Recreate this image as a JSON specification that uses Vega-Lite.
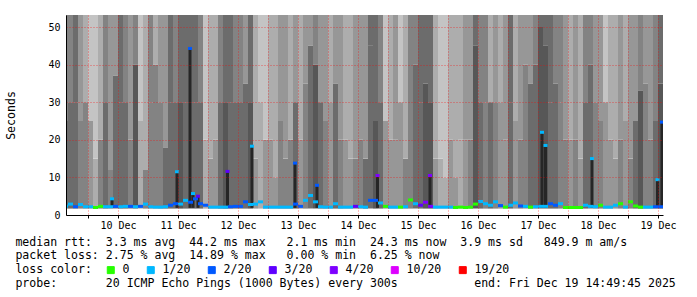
{
"$schema": "https://vega.github.io/schema/vega-lite/v6.json",
"width": 597, "height": 200,
"autosize": {"type": "none"},
"padding": {"left": 66, "top": 15, "right": 34, "bottom": 82},
"background": "white",
"config": {"view": {"stroke": null}},
"title": {
 "text": ["median rtt:\u00a0\u00a03.3 ms avg\u00a0\u00a044.2 ms max\u00a0\u00a0\u00a02.1 ms min\u00a0\u00a024.3 ms now\u00a0\u00a03.9 ms sd\u00a0\u00a0\u00a0849.9 m am/s",
          "packet loss: 2.75 % avg\u00a0\u00a014.89 % max\u00a0\u00a0\u00a00.00 % min\u00a0\u00a06.25 % now",
          "loss color:",
          "probe:\u00a0\u00a0\u00a0\u00a0\u00a0\u00a0\u00a020 ICMP Echo Pings (1000 Bytes) every 300s\u00a0\u00a0\u00a0\u00a0\u00a0\u00a0\u00a0\u00a0\u00a0\u00a0\u00a0end: Fri Dec 19 14:49:45 2025"],
 "orient": "bottom", "anchor": "start", "frame": "group", "dx": -50.6, "offset": -39.3,
 "font": "DejaVu Sans Mono", "fontSize": 11.55, "fontWeight": "normal", "color": "#000000", "lineHeight": 13.7
},
"datasets": {
"smoke": [
{"t":"2025-12-09T14:00","t2":"2025-12-09T16:00","dlow":5,"split":25,"dhigh":4,"median":2.3,"loss":"1/20"},
{"t":"2025-12-09T16:00","t2":"2025-12-09T18:00","dlow":5,"split":30,"dhigh":4,"median":2.9,"loss":"1/20"},
{"t":"2025-12-09T18:00","t2":"2025-12-09T20:00","dlow":5,"split":30,"dhigh":5,"median":2.2,"loss":"2/20"},
{"t":"2025-12-09T20:00","t2":"2025-12-09T22:00","dlow":4,"split":25,"dhigh":3,"median":2.8,"loss":"1/20"},
{"t":"2025-12-09T22:00","t2":"2025-12-10T00:00","dlow":4,"split":30,"dhigh":2,"median":2.2,"loss":"1/20"},
{"t":"2025-12-10T00:00","t2":"2025-12-10T02:00","dlow":3,"split":25,"dhigh":1,"median":2.2,"loss":"1/20"},
{"t":"2025-12-10T02:00","t2":"2025-12-10T04:00","dlow":2,"split":15,"dhigh":1,"median":2.0,"loss":"0"},
{"t":"2025-12-10T04:00","t2":"2025-12-10T06:00","dlow":4,"split":20,"dhigh":2,"median":2.3,"loss":"0"},
{"t":"2025-12-10T06:00","t2":"2025-12-10T08:00","dlow":5,"split":30,"dhigh":4,"median":2.2,"loss":"1/20"},
{"t":"2025-12-10T08:00","t2":"2025-12-10T10:00","dlow":4,"split":12,"dhigh":3,"median":2.2,"loss":"1/20"},
{"t":"2025-12-10T10:00","t2":"2025-12-10T12:00","dlow":5,"split":37,"dhigh":3,"median":2.3,"loss":"2/20"},
{"t":"2025-12-10T12:00","t2":"2025-12-10T14:00","dlow":5,"split":30,"dhigh":5,"median":2.2,"loss":"1/20"},
{"t":"2025-12-10T14:00","t2":"2025-12-10T16:00","dlow":5,"split":30,"dhigh":4,"median":2.3,"loss":"1/20"},
{"t":"2025-12-10T16:00","t2":"2025-12-10T18:00","dlow":4,"split":20,"dhigh":3,"median":2.3,"loss":"2/20"},
{"t":"2025-12-10T18:00","t2":"2025-12-10T20:00","dlow":6,"split":40,"dhigh":4,"median":2.2,"loss":"1/20"},
{"t":"2025-12-10T20:00","t2":"2025-12-10T22:00","dlow":2,"split":25,"dhigh":1,"median":2.3,"loss":"2/20"},
{"t":"2025-12-10T22:00","t2":"2025-12-11T00:00","dlow":4,"split":12,"dhigh":2,"median":2.9,"loss":"1/20"},
{"t":"2025-12-11T00:00","t2":"2025-12-11T02:00","dlow":4,"split":30,"dhigh":4,"median":2.2,"loss":"1/20"},
{"t":"2025-12-11T02:00","t2":"2025-12-11T04:00","dlow":4,"split":40,"dhigh":2,"median":2.1,"loss":"1/20"},
{"t":"2025-12-11T04:00","t2":"2025-12-11T06:00","dlow":4,"split":30,"dhigh":3,"median":2.1,"loss":"1/20"},
{"t":"2025-12-11T06:00","t2":"2025-12-11T08:00","dlow":5,"split":18,"dhigh":3,"median":2.2,"loss":"1/20"},
{"t":"2025-12-11T08:00","t2":"2025-12-11T10:00","dlow":5,"split":30,"dhigh":5,"median":2.6,"loss":"2/20"},
{"t":"2025-12-11T10:00","t2":"2025-12-11T12:00","dlow":5,"split":30,"dhigh":4,"median":3.0,"loss":"2/20"},
{"t":"2025-12-11T12:00","t2":"2025-12-11T14:00","dlow":6,"split":30,"dhigh":5,"median":2.9,"loss":"1/20"},
{"t":"2025-12-11T14:00","t2":"2025-12-11T16:00","dlow":5,"split":30,"dhigh":5,"median":3.9,"loss":"1/20"},
{"t":"2025-12-11T16:00","t2":"2025-12-11T18:00","dlow":5,"split":30,"dhigh":5,"median":3.4,"loss":"2/20"},
{"t":"2025-12-11T18:00","t2":"2025-12-11T20:00","dlow":5,"split":30,"dhigh":5,"median":4.3,"loss":"2/20"},
{"t":"2025-12-11T20:00","t2":"2025-12-11T22:00","dlow":5,"split":30,"dhigh":4,"median":3.0,"loss":"2/20"},
{"t":"2025-12-11T22:00","t2":"2025-12-12T00:00","dlow":2,"split":20,"dhigh":1,"median":2.6,"loss":"2/20"},
{"t":"2025-12-12T00:00","t2":"2025-12-12T02:00","dlow":3,"split":15,"dhigh":2,"median":2.1,"loss":"1/20"},
{"t":"2025-12-12T02:00","t2":"2025-12-12T04:00","dlow":3,"split":20,"dhigh":2,"median":2.1,"loss":"1/20"},
{"t":"2025-12-12T04:00","t2":"2025-12-12T06:00","dlow":5,"split":30,"dhigh":4,"median":2.1,"loss":"1/20"},
{"t":"2025-12-12T06:00","t2":"2025-12-12T08:00","dlow":6,"split":30,"dhigh":5,"median":2.1,"loss":"1/20"},
{"t":"2025-12-12T08:00","t2":"2025-12-12T10:00","dlow":5,"split":30,"dhigh":5,"median":2.2,"loss":"2/20"},
{"t":"2025-12-12T10:00","t2":"2025-12-12T12:00","dlow":5,"split":30,"dhigh":4,"median":2.3,"loss":"2/20"},
{"t":"2025-12-12T12:00","t2":"2025-12-12T14:00","dlow":5,"split":30,"dhigh":4,"median":2.3,"loss":"2/20"},
{"t":"2025-12-12T14:00","t2":"2025-12-12T16:00","dlow":5,"split":35,"dhigh":3,"median":3.5,"loss":"2/20"},
{"t":"2025-12-12T16:00","t2":"2025-12-12T18:00","dlow":6,"split":30,"dhigh":5,"median":2.8,"loss":"1/20"},
{"t":"2025-12-12T18:00","t2":"2025-12-12T20:00","dlow":3,"split":15,"dhigh":2,"median":2.9,"loss":"1/20"},
{"t":"2025-12-12T20:00","t2":"2025-12-12T22:00","dlow":2,"split":30,"dhigh":1,"median":3.5,"loss":"1/20"},
{"t":"2025-12-12T22:00","t2":"2025-12-13T00:00","dlow":3,"split":20,"dhigh":1,"median":2.1,"loss":"1/20"},
{"t":"2025-12-13T00:00","t2":"2025-12-13T02:00","dlow":3,"split":20,"dhigh":2,"median":2.1,"loss":"1/20"},
{"t":"2025-12-13T02:00","t2":"2025-12-13T04:00","dlow":3,"split":10,"dhigh":2,"median":2.1,"loss":"1/20"},
{"t":"2025-12-13T04:00","t2":"2025-12-13T06:00","dlow":4,"split":25,"dhigh":3,"median":2.1,"loss":"1/20"},
{"t":"2025-12-13T06:00","t2":"2025-12-13T08:00","dlow":4,"split":15,"dhigh":3,"median":2.1,"loss":"1/20"},
{"t":"2025-12-13T08:00","t2":"2025-12-13T10:00","dlow":4,"split":20,"dhigh":2,"median":2.1,"loss":"1/20"},
{"t":"2025-12-13T10:00","t2":"2025-12-13T12:00","dlow":5,"split":30,"dhigh":3,"median":2.9,"loss":"2/20"},
{"t":"2025-12-13T12:00","t2":"2025-12-13T14:00","dlow":3,"split":20,"dhigh":2,"median":2.3,"loss":"2/20"},
{"t":"2025-12-13T14:00","t2":"2025-12-13T16:00","dlow":4,"split":35,"dhigh":3,"median":3.9,"loss":"1/20"},
{"t":"2025-12-13T16:00","t2":"2025-12-13T18:00","dlow":5,"split":45,"dhigh":3,"median":5.2,"loss":"1/20"},
{"t":"2025-12-13T18:00","t2":"2025-12-13T20:00","dlow":6,"split":40,"dhigh":4,"median":3.5,"loss":"1/20"},
{"t":"2025-12-13T20:00","t2":"2025-12-13T22:00","dlow":5,"split":30,"dhigh":3,"median":2.2,"loss":"1/20"},
{"t":"2025-12-13T22:00","t2":"2025-12-14T00:00","dlow":4,"split":25,"dhigh":3,"median":2.1,"loss":"1/20"},
{"t":"2025-12-14T00:00","t2":"2025-12-14T02:00","dlow":3,"split":30,"dhigh":2,"median":2.1,"loss":"1/20"},
{"t":"2025-12-14T02:00","t2":"2025-12-14T04:00","dlow":5,"split":35,"dhigh":3,"median":3.0,"loss":"1/20"},
{"t":"2025-12-14T04:00","t2":"2025-12-14T06:00","dlow":4,"split":20,"dhigh":3,"median":2.1,"loss":"1/20"},
{"t":"2025-12-14T06:00","t2":"2025-12-14T08:00","dlow":3,"split":20,"dhigh":2,"median":2.1,"loss":"1/20"},
{"t":"2025-12-14T08:00","t2":"2025-12-14T10:00","dlow":3,"split":15,"dhigh":2,"median":2.1,"loss":"1/20"},
{"t":"2025-12-14T10:00","t2":"2025-12-14T12:00","dlow":4,"split":15,"dhigh":3,"median":2.3,"loss":"3/20"},
{"t":"2025-12-14T12:00","t2":"2025-12-14T14:00","dlow":4,"split":20,"dhigh":3,"median":2.2,"loss":"1/20"},
{"t":"2025-12-14T14:00","t2":"2025-12-14T16:00","dlow":5,"split":15,"dhigh":3,"median":2.1,"loss":"1/20"},
{"t":"2025-12-14T16:00","t2":"2025-12-14T18:00","dlow":5,"split":45,"dhigh":5,"median":3.9,"loss":"2/20"},
{"t":"2025-12-14T18:00","t2":"2025-12-14T20:00","dlow":6,"split":25,"dhigh":5,"median":3.9,"loss":"2/20"},
{"t":"2025-12-14T20:00","t2":"2025-12-14T22:00","dlow":5,"split":30,"dhigh":4,"median":3.2,"loss":"1/20"},
{"t":"2025-12-14T22:00","t2":"2025-12-15T00:00","dlow":3,"split":25,"dhigh":1,"median":2.3,"loss":"0"},
{"t":"2025-12-15T00:00","t2":"2025-12-15T02:00","dlow":3,"split":20,"dhigh":2,"median":2.1,"loss":"1/20"},
{"t":"2025-12-15T02:00","t2":"2025-12-15T04:00","dlow":3,"split":20,"dhigh":3,"median":2.1,"loss":"1/20"},
{"t":"2025-12-15T04:00","t2":"2025-12-15T06:00","dlow":3,"split":30,"dhigh":1,"median":2.1,"loss":"0"},
{"t":"2025-12-15T06:00","t2":"2025-12-15T08:00","dlow":4,"split":15,"dhigh":2,"median":2.2,"loss":"1/20"},
{"t":"2025-12-15T08:00","t2":"2025-12-15T10:00","dlow":4,"split":25,"dhigh":4,"median":4.0,"loss":"0"},
{"t":"2025-12-15T10:00","t2":"2025-12-15T12:00","dlow":5,"split":40,"dhigh":4,"median":3.0,"loss":"1/20"},
{"t":"2025-12-15T12:00","t2":"2025-12-15T14:00","dlow":5,"split":30,"dhigh":5,"median":2.6,"loss":"3/20"},
{"t":"2025-12-15T14:00","t2":"2025-12-15T16:00","dlow":6,"split":35,"dhigh":5,"median":3.4,"loss":"4/20"},
{"t":"2025-12-15T16:00","t2":"2025-12-15T18:00","dlow":6,"split":30,"dhigh":5,"median":2.3,"loss":"4/20"},
{"t":"2025-12-15T18:00","t2":"2025-12-15T20:00","dlow":3,"split":15,"dhigh":2,"median":2.1,"loss":"1/20"},
{"t":"2025-12-15T20:00","t2":"2025-12-15T22:00","dlow":2,"split":15,"dhigh":1,"median":2.1,"loss":"1/20"},
{"t":"2025-12-15T22:00","t2":"2025-12-16T00:00","dlow":2,"split":10,"dhigh":1,"median":2.1,"loss":"1/20"},
{"t":"2025-12-16T00:00","t2":"2025-12-16T02:00","dlow":3,"split":20,"dhigh":2,"median":2.1,"loss":"1/20"},
{"t":"2025-12-16T02:00","t2":"2025-12-16T04:00","dlow":3,"split":10,"dhigh":2,"median":2.0,"loss":"0"},
{"t":"2025-12-16T04:00","t2":"2025-12-16T06:00","dlow":2,"split":20,"dhigh":2,"median":2.1,"loss":"0"},
{"t":"2025-12-16T06:00","t2":"2025-12-16T08:00","dlow":3,"split":20,"dhigh":3,"median":2.0,"loss":"0"},
{"t":"2025-12-16T08:00","t2":"2025-12-16T10:00","dlow":4,"split":20,"dhigh":3,"median":2.1,"loss":"0"},
{"t":"2025-12-16T10:00","t2":"2025-12-16T12:00","dlow":6,"split":45,"dhigh":5,"median":2.9,"loss":"0"},
{"t":"2025-12-16T12:00","t2":"2025-12-16T14:00","dlow":5,"split":30,"dhigh":4,"median":3.6,"loss":"1/20"},
{"t":"2025-12-16T14:00","t2":"2025-12-16T16:00","dlow":4,"split":30,"dhigh":4,"median":3.0,"loss":"1/20"},
{"t":"2025-12-16T16:00","t2":"2025-12-16T18:00","dlow":5,"split":30,"dhigh":2,"median":2.6,"loss":"1/20"},
{"t":"2025-12-16T18:00","t2":"2025-12-16T20:00","dlow":4,"split":30,"dhigh":3,"median":3.5,"loss":"1/20"},
{"t":"2025-12-16T20:00","t2":"2025-12-16T22:00","dlow":3,"split":30,"dhigh":2,"median":2.5,"loss":"2/20"},
{"t":"2025-12-16T22:00","t2":"2025-12-17T00:00","dlow":3,"split":20,"dhigh":3,"median":2.1,"loss":"0"},
{"t":"2025-12-17T00:00","t2":"2025-12-17T02:00","dlow":5,"split":30,"dhigh":5,"median":2.6,"loss":"1/20"},
{"t":"2025-12-17T02:00","t2":"2025-12-17T04:00","dlow":3,"split":25,"dhigh":2,"median":3.2,"loss":"1/20"},
{"t":"2025-12-17T04:00","t2":"2025-12-17T06:00","dlow":4,"split":20,"dhigh":3,"median":2.4,"loss":"2/20"},
{"t":"2025-12-17T06:00","t2":"2025-12-17T08:00","dlow":4,"split":40,"dhigh":3,"median":2.3,"loss":"1/20"},
{"t":"2025-12-17T08:00","t2":"2025-12-17T10:00","dlow":5,"split":35,"dhigh":3,"median":2.1,"loss":"0"},
{"t":"2025-12-17T10:00","t2":"2025-12-17T12:00","dlow":5,"split":40,"dhigh":4,"median":2.2,"loss":"1/20"},
{"t":"2025-12-17T12:00","t2":"2025-12-17T14:00","dlow":6,"split":50,"dhigh":5,"median":2.3,"loss":"1/20"},
{"t":"2025-12-17T14:00","t2":"2025-12-17T16:00","dlow":6,"split":45,"dhigh":5,"median":2.3,"loss":"1/20"},
{"t":"2025-12-17T16:00","t2":"2025-12-17T18:00","dlow":5,"split":30,"dhigh":5,"median":3.0,"loss":"2/20"},
{"t":"2025-12-17T18:00","t2":"2025-12-17T20:00","dlow":5,"split":35,"dhigh":4,"median":2.6,"loss":"2/20"},
{"t":"2025-12-17T20:00","t2":"2025-12-17T22:00","dlow":4,"split":30,"dhigh":4,"median":3.0,"loss":"1/20"},
{"t":"2025-12-17T22:00","t2":"2025-12-18T00:00","dlow":4,"split":20,"dhigh":3,"median":2.0,"loss":"0"},
{"t":"2025-12-18T00:00","t2":"2025-12-18T02:00","dlow":3,"split":20,"dhigh":2,"median":2.0,"loss":"0"},
{"t":"2025-12-18T02:00","t2":"2025-12-18T04:00","dlow":4,"split":20,"dhigh":3,"median":2.0,"loss":"0"},
{"t":"2025-12-18T04:00","t2":"2025-12-18T06:00","dlow":3,"split":15,"dhigh":2,"median":2.0,"loss":"0"},
{"t":"2025-12-18T06:00","t2":"2025-12-18T08:00","dlow":5,"split":30,"dhigh":4,"median":2.6,"loss":"1/20"},
{"t":"2025-12-18T08:00","t2":"2025-12-18T10:00","dlow":5,"split":40,"dhigh":4,"median":2.3,"loss":"1/20"},
{"t":"2025-12-18T10:00","t2":"2025-12-18T12:00","dlow":4,"split":30,"dhigh":3,"median":2.2,"loss":"1/20"},
{"t":"2025-12-18T12:00","t2":"2025-12-18T14:00","dlow":4,"split":25,"dhigh":3,"median":2.6,"loss":"0"},
{"t":"2025-12-18T14:00","t2":"2025-12-18T16:00","dlow":3,"split":30,"dhigh":1,"median":2.1,"loss":"1/20"},
{"t":"2025-12-18T16:00","t2":"2025-12-18T18:00","dlow":3,"split":20,"dhigh":2,"median":2.1,"loss":"1/20"},
{"t":"2025-12-18T18:00","t2":"2025-12-18T20:00","dlow":3,"split":15,"dhigh":2,"median":2.6,"loss":"1/20"},
{"t":"2025-12-18T20:00","t2":"2025-12-18T22:00","dlow":4,"split":20,"dhigh":3,"median":3.0,"loss":"0"},
{"t":"2025-12-18T22:00","t2":"2025-12-19T00:00","dlow":3,"split":25,"dhigh":2,"median":2.1,"loss":"1/20"},
{"t":"2025-12-19T00:00","t2":"2025-12-19T02:00","dlow":4,"split":15,"dhigh":3,"median":3.5,"loss":"0"},
{"t":"2025-12-19T02:00","t2":"2025-12-19T04:00","dlow":5,"split":25,"dhigh":3,"median":2.4,"loss":"0"},
{"t":"2025-12-19T04:00","t2":"2025-12-19T06:00","dlow":6,"split":33,"dhigh":4,"median":2.1,"loss":"0"},
{"t":"2025-12-19T06:00","t2":"2025-12-19T08:00","dlow":4,"split":35,"dhigh":3,"median":2.1,"loss":"1/20"},
{"t":"2025-12-19T08:00","t2":"2025-12-19T10:00","dlow":4,"split":20,"dhigh":3,"median":2.1,"loss":"1/20"},
{"t":"2025-12-19T10:00","t2":"2025-12-19T12:00","dlow":5,"split":25,"dhigh":4,"median":2.2,"loss":"2/20"},
{"t":"2025-12-19T12:00","t2":"2025-12-19T14:00","dlow":6,"split":35,"dhigh":5,"median":2.2,"loss":"2/20"}
],
"spikes": [
{"t":"2025-12-10T09:36","top":4.3,"loss":"1/20"},
{"t":"2025-12-11T11:36","top":11.5,"loss":"1/20"},
{"t":"2025-12-11T16:48","top":44.3,"loss":"2/20"},
{"t":"2025-12-11T18:00","top":5.7,"loss":"1/20"},
{"t":"2025-12-11T20:00","top":5.0,"loss":"3/20"},
{"t":"2025-12-12T07:48","top":11.6,"loss":"3/20"},
{"t":"2025-12-12T17:36","top":18.3,"loss":"1/20"},
{"t":"2025-12-13T10:48","top":13.8,"loss":"2/20"},
{"t":"2025-12-13T19:36","top":7.9,"loss":"2/20"},
{"t":"2025-12-14T19:48","top":10.5,"loss":"4/20"},
{"t":"2025-12-15T16:48","top":10.5,"loss":"4/20"},
{"t":"2025-12-17T13:36","top":22.0,"loss":"1/20"},
{"t":"2025-12-17T15:00","top":18.5,"loss":"1/20"},
{"t":"2025-12-18T09:36","top":15.0,"loss":"1/20"},
{"t":"2025-12-19T11:48","top":9.4,"loss":"1/20"},
{"t":"2025-12-19T13:36","top":24.7,"loss":"2/20"}
]
},
"layer": [
{
 "data": {"name": "smoke"},
 "mark": {"type": "rect", "clip": true},
 "encoding": {
  "x": {"field": "t", "type": "temporal",
   "scale": {"domain": [{"year": 2025, "month": 12, "date": 9, "hours": 15, "minutes": 12}, {"year": 2025, "month": 12, "date": 19, "hours": 14}]},
   "axis": {"title": null, "format": "%d %b", "labelOffset": 30, "labelFlush": false,
    "labelFont": "DejaVu Sans Mono", "labelFontSize": 10, "labelColor": "#000000", "labelPadding": 2,
    "tickSize": 3, "tickColor": "#000000", "domainColor": "#000000",
    "grid": true, "gridColor": "#ff0000", "gridOpacity": 0.55, "gridDash": [1, 2], "zindex": 1}},
  "x2": {"field": "t2"},
  "y": {"field": "split", "type": "quantitative",
   "scale": {"domain": [0, 53.2], "nice": false},
   "axis": {"title": "Seconds", "values": [0, 10, 20, 30, 40, 50], "tickCount": 6, "labelOverlap": false,
    "labelFont": "DejaVu Sans Mono", "labelFontSize": 10, "labelColor": "#000000", "ticks": false, "labelPadding": 6,
    "domainColor": "#000000", "grid": true, "gridColor": "#ff0000", "gridOpacity": 0.55, "gridDash": [1, 2],
    "titleFont": "DejaVu Sans Mono", "titleFontSize": 11.55, "titleFontWeight": "normal", "titleColor": "#000000",
    "titlePadding": 31, "zindex": 1}},
  "y2": {"datum": 1.7},
  "fill": {"field": "dlow", "type": "ordinal",
   "scale": {"domain": [1, 2, 3, 4, 5, 6], "range": ["#c4c4c4", "#adadad", "#979797", "#838383", "#6c6c6c", "#575757"]},
   "legend": null}
 }
},
{
 "data": {"name": "smoke"},
 "mark": {"type": "rect", "clip": true},
 "encoding": {
  "x": {"field": "t", "type": "temporal"},
  "x2": {"field": "t2"},
  "y": {"field": "split", "type": "quantitative"},
  "y2": {"datum": 60},
  "fill": {"field": "dhigh", "type": "ordinal", "legend": null}
 }
},
{
 "data": {"name": "spikes"},
 "mark": {"type": "rule", "strokeWidth": 3, "color": "#262626", "clip": true},
 "encoding": {
  "x": {"field": "t", "type": "temporal"},
  "y": {"field": "top", "type": "quantitative"},
  "y2": {"datum": 1.9}
 }
},
{
 "data": {"name": "smoke"},
 "mark": {"type": "rule", "strokeWidth": 3, "clip": true},
 "encoding": {
  "x": {"field": "t", "type": "temporal"},
  "x2": {"field": "t2"},
  "y": {"field": "median", "type": "quantitative"},
  "color": {"field": "loss", "type": "nominal"}
 }
},
{
 "data": {"name": "spikes"},
 "mark": {"type": "tick", "orient": "horizontal", "size": 4, "thickness": 3, "opacity": 1, "clip": true},
 "encoding": {
  "x": {"field": "t", "type": "temporal"},
  "y": {"field": "top", "type": "quantitative"},
  "color": {"field": "loss", "type": "nominal",
   "scale": {"domain": ["0", "1/20", "2/20", "3/20", "4/20", "10/20", "19/20"],
    "range": ["#26ff00", "#00b8ff", "#0059ff", "#5e00ff", "#7e00ff", "#dd00ff", "#ff0000"]},
   "legend": {"orient": "none", "legendX": 39, "legendY": 249, "direction": "horizontal", "title": null,
    "labelFont": "DejaVu Sans Mono", "labelFontSize": 11.55, "labelColor": "#000000", "labelOffset": 6,
    "columnPadding": 15, "symbolType": "square", "symbolSize": 49, "symbolStrokeWidth": 1,
    "symbolStrokeColor": "#000000", "symbolOpacity": 1}}
 }
}
]
}
